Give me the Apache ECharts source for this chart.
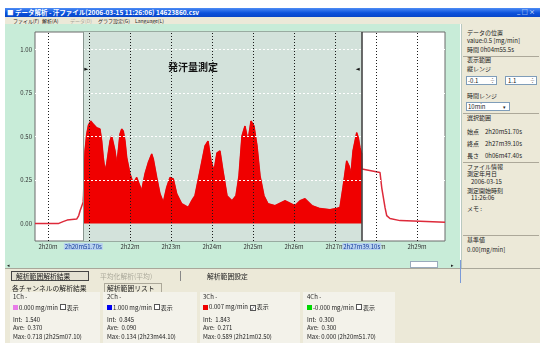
<!DOCTYPE html>
<html><head><meta charset="utf-8">
<script src="https://cdn.jsdelivr.net/npm/echarts@6/dist/echarts.min.js"></script>
<style>
body{margin:0;width:540px;height:343px;background:#fff;overflow:hidden;position:relative;
  font-family:"Noto Sans CJK JP","Noto Sans",sans-serif;font-size:6px;color:#222}
.a{position:absolute;white-space:nowrap;line-height:1}
.box{position:absolute;box-sizing:border-box}
.m{font-size:5px}
.big{font-size:6.8px}
#title{left:5px;top:8px;width:535px;height:9px;background:linear-gradient(#4d8cf5,#0c52dc 55%,#0846c8)}
#menu{left:5px;top:17px;width:535px;height:7px;background:#ece9d8}
#chartWrap{left:5px;top:24px;width:455px;height:244px;background:#c8ecd8}
#chart{position:absolute;left:0;top:0;width:455px;height:244px}
#side{left:461px;top:24px;width:79px;height:244px;background:#ece9d8;border-left:1px solid #b9c8c0}
#bottom{left:5px;top:268px;width:535px;height:75px;background:#ece9d8;border-top:1px solid #a9a79a}
.hr{position:absolute;height:0;border-top:1px solid #aca899}
.grp{position:absolute;top:292px;height:51px;background:#f3f2ea}
.sq{display:inline-block;width:5px;height:5px;margin-right:1px;vertical-align:-0.5px}
.cb{display:inline-block;width:4px;height:4px;border:1px solid #555;background:#fff;margin:0 1px 0 2px;vertical-align:-0.5px;font-size:5px;line-height:4px;text-align:center}
.field{position:absolute;background:#fff;border:1px solid #7f9db9;box-sizing:border-box}
</style></head>
<body>
<div class="box" id="title"></div>
<div class="a" style="left:7px;top:9px;color:#fff;font-size:6.5px;font-weight:bold">■ データ解析 - 汗ファイル(2006-03-15 11:26:06) 14623860.csv</div>
<div class="a" style="left:517px;top:9px;color:#fff;font-size:6px">_ □ ×</div>
<div class="box" id="menu"></div>
<div class="a m" style="left:13px;top:18px">ファイル(F)</div>
<div class="a m" style="left:42px;top:18px">解析(A)</div>
<div class="a m" style="left:70px;top:18px;color:#a8a698">データ(D)</div>
<div class="a m" style="left:98px;top:18px">グラフ設定(G)</div>
<div class="a m" style="left:135px;top:18px">Language(L)</div>

<div class="box" id="chartWrap"><div id="chart"></div></div>
<div class="a" style="left:7px;top:262px;font-size:5px">◂</div>
<div class="box" style="left:410px;top:261px;width:28px;height:7px;background:#fff;border:1px solid #9ab"></div>
<div class="a" style="left:451px;top:262px;font-size:5px">▸</div>

<div class="box" id="side"></div>
<div class="a" style="left:467px;top:30px">データの位置</div>
<div class="a" style="left:467px;top:38px">value:0.5 [mg/min]</div>
<div class="a" style="left:467px;top:47px">時間 0h04m55.5s</div>
<div class="hr" style="left:463px;top:56px;width:76px"></div>
<div class="a" style="left:467px;top:57px">表示範囲</div>
<div class="a" style="left:467px;top:66px">縦レンジ</div>
<div class="field" style="left:466px;top:76px;width:31px;height:9px"></div>
<div class="a" style="left:468px;top:78px">-0.1</div><div class="a" style="left:490px;top:77px;font-size:5px">÷</div>
<div class="field" style="left:505px;top:76px;width:32px;height:9px"></div>
<div class="a" style="left:508px;top:78px">1.1</div><div class="a" style="left:530px;top:77px;font-size:5px">÷</div>
<div class="a" style="left:467px;top:93px">時間レンジ</div>
<div class="field" style="left:466px;top:102px;width:44px;height:9px"></div>
<div class="a" style="left:468px;top:104px">10min</div><div class="a" style="left:503px;top:104px;font-size:5px">▾</div>
<div class="hr" style="left:463px;top:113px;width:76px"></div>
<div class="a" style="left:467px;top:115px">選択範囲</div>
<div class="a" id="selStart" style="left:467px;top:129px"></div>
<div class="a" id="selEnd" style="left:467px;top:141px"></div>
<div class="a" id="selLen" style="left:467px;top:153px"></div>
<div class="hr" style="left:463px;top:162px;width:76px"></div>
<div class="a" style="left:467px;top:164px">ファイル情報</div>
<div class="a" style="left:467px;top:171px">測定年月日</div>
<div class="a" style="left:471px;top:179px">2006-03-15</div>
<div class="a" style="left:467px;top:188px">測定開始時刻</div>
<div class="a" style="left:471px;top:195px">11:26:06</div>
<div class="a" style="left:467px;top:206px">メモ :</div>
<div class="hr" style="left:463px;top:235px;width:76px"></div>
<div class="a" style="left:467px;top:237px">基準値</div>
<div class="a" style="left:467px;top:247px">0.00[mg/min]</div>

<div class="box" id="bottom"></div>
<div class="box" style="left:460px;top:260px;width:1px;height:23px;background:#7a9ad8"></div>
<div class="box" style="left:11px;top:271px;width:78px;height:10px;border:1px solid #444;background:#e4e1d2"></div>
<div class="a big" style="left:16px;top:272.5px">解析範囲解析結果</div>
<div class="a big" style="left:100px;top:272.5px;color:#aaa89a">平均化解析(平均)</div>
<div class="box" style="left:180px;top:271px;width:1px;height:10px;background:#888"></div>
<div class="a big" style="left:207px;top:272.5px">解析範囲設定</div>
<div class="a big" style="left:12px;top:284.5px">各チャンネルの解析結果</div>
<div class="box" style="left:104px;top:283px;width:58px;height:9px;border:1px solid #aca899;border-bottom:none"></div>
<div class="a big" style="left:107px;top:284.5px">解析範囲リスト</div>

<div class="grp" style="left:10px;width:90px"></div>
<div class="a" style="left:13px;top:294px">1Ch -</div>
<div class="a" style="left:13px;top:304px"><span class="sq" style="background:#e87ce8"></span>0.000 mg/min<span class="cb"></span>表示</div>
<div class="a" style="left:13px;top:317px">Int:&nbsp; 1.540</div>
<div class="a" style="left:13px;top:325px">Ave:&nbsp; 0.370</div>
<div class="a" style="left:13px;top:334px">Max: 0.718 (2h25m07.10)</div>

<div class="grp" style="left:103px;width:94px"></div>
<div class="a" style="left:107px;top:294px">2Ch -</div>
<div class="a" style="left:107px;top:304px"><span class="sq" style="background:#0000f0"></span>1.000 mg/min<span class="cb"></span>表示</div>
<div class="a" style="left:107px;top:317px">Int:&nbsp; 0.845</div>
<div class="a" style="left:107px;top:325px">Ave:&nbsp; 0.090</div>
<div class="a" style="left:107px;top:334px">Max: 0.134 (2h23m44.10)</div>

<div class="grp" style="left:200px;width:100px"></div>
<div class="a" style="left:203px;top:294px">3Ch -</div>
<div class="a" style="left:203px;top:304px"><span class="sq" style="background:#f00000"></span><span id="ch3now"></span> mg/min<span class="cb">✓</span>表示</div>
<div class="a" id="ch3int" style="left:203px;top:317px"></div>
<div class="a" id="ch3ave" style="left:203px;top:325px"></div>
<div class="a" id="ch3max" style="left:203px;top:334px"></div>

<div class="grp" style="left:303px;width:92px"></div>
<div class="a" style="left:307px;top:294px">4Ch -</div>
<div class="a" style="left:307px;top:304px"><span class="sq" style="background:#00d800"></span>-0.000 mg/min<span class="cb"></span>表示</div>
<div class="a" style="left:307px;top:317px">Int:&nbsp; 0.300</div>
<div class="a" style="left:307px;top:325px">Ave:&nbsp; 0.300</div>
<div class="a" style="left:307px;top:334px">Max: 0.000 (2h20m51.70)</div>

<script>
// Sweat rate of channel 3, seconds since file start vs mg/min
const sampleSec = [
  8381, 8415, 8422, 8428, 8442, 8445, 8447, 8451.7,
  8454.2, 8456.7, 8459.3, 8462.5, 8464.0, 8466.3, 8471.3, 8476.1, 8478.6, 8480.9,
  8483.4, 8485.9, 8488.3, 8490.8, 8493.2, 8495.6, 8498.1, 8500.6, 8502.9, 8505.4,
  8507.9, 8510.2, 8512.7, 8515.2, 8520.0, 8524.9, 8529.8, 8532.2, 8537.1, 8542.0,
  8546.8, 8551.8, 8554.1, 8559.1, 8563.9, 8568.8, 8573.7, 8578.6, 8583.4, 8588.4,
  8595.7, 8605.3, 8610.3, 8615.1, 8622.5, 8629.8, 8634.2, 8638.6, 8643.0, 8647.3,
  8651.7, 8656.1, 8662.0, 8669.3, 8675.1, 8679.5, 8683.9, 8688.3, 8692.7, 8697.1,
  8701.5, 8705.9, 8710.3, 8716.1, 8722.0, 8732.2, 8746.9, 8761.5, 8768.8, 8776.1,
  8786.4, 8798.1, 8812.7, 8821.5, 8827.3, 8831.7, 8837.1, 8840.5, 8843.4, 8846.4,
  8851.8, 8854.1, 8856.6, 8859.1,
  8859.5, 8885.9, 8888.4, 8893.2, 8895.7, 8900.5, 8915.2, 8944.4, 8981
];
const sweatRate = [
  0.000, 0.000, 0.011, 0.020, 0.026, 0.046, 0.074, 0.126,
  0.417, 0.514, 0.566, 0.589, 0.586, 0.571, 0.550, 0.543, 0.474, 0.379,
  0.303, 0.343, 0.407, 0.474, 0.503, 0.493, 0.417, 0.343, 0.417, 0.514,
  0.543, 0.531, 0.474, 0.379, 0.286, 0.229, 0.265, 0.257, 0.189, 0.286,
  0.350, 0.400, 0.371, 0.265, 0.171, 0.122, 0.207, 0.265, 0.257, 0.171,
  0.114, 0.093, 0.131, 0.160, 0.303, 0.446, 0.474, 0.360, 0.303, 0.406,
  0.417, 0.303, 0.160, 0.131, 0.160, 0.274, 0.503, 0.560, 0.474, 0.589,
  0.560, 0.446, 0.274, 0.160, 0.114, 0.103, 0.131, 0.103, 0.131, 0.143,
  0.103, 0.086, 0.080, 0.086, 0.093, 0.207, 0.360, 0.331, 0.286, 0.417,
  0.522, 0.493, 0.436, 0.400,
  0.314, 0.293, 0.207, 0.093, 0.046, 0.029, 0.017, 0.013, 0.007
];
// Selected measurement range (発汗量測定)
const rangeStart = 8451.7;
const rangeEnd = 8859.1;
// Display window and tick labels
const viewMin = 8381, viewMax = 8981;
const tickSec = [8400, 8460, 8520, 8580, 8640, 8700, 8760, 8820, 8880, 8940];
const tickLabels = ['2h20m', '2h21m', '2h22m', '2h23m', '2h24m', '2h25m', '2h26m', '2h27m', '2h28m', '2h29m'];
const yTicks = [0, 0.25, 0.5, 0.75, 1.0];

function fmtHMS(s) {
  const h = Math.floor(s / 3600), m = Math.floor((s % 3600) / 60), sec = s - h * 3600 - m * 60;
  return h + 'h' + String(m).padStart(2, '0') + 'm' + sec.toFixed(2).padStart(5, '0') + 's';
}

const allPts = sampleSec.map((t, i) => [t, sweatRate[i]]);
const rangePts = allPts.filter(p => p[0] >= rangeStart && p[0] <= rangeEnd);

// statistics for the selected range
let integ = 0, maxV = -1, maxT = 0;
for (let i = 0; i < rangePts.length; i++) {
  if (rangePts[i][1] > maxV) { maxV = rangePts[i][1]; maxT = rangePts[i][0]; }
  if (i > 0) integ += (rangePts[i][0] - rangePts[i - 1][0]) * (rangePts[i][1] + rangePts[i - 1][1]) / 2;
}
const dur = rangeEnd - rangeStart;
document.getElementById('selStart').textContent = '始点　' + fmtHMS(rangeStart);
document.getElementById('selEnd').textContent = '終点　' + fmtHMS(rangeEnd);
document.getElementById('selLen').textContent = '長さ　' + fmtHMS(dur);
document.getElementById('ch3now').textContent = sweatRate[sweatRate.length - 1].toFixed(3);
document.getElementById('ch3int').textContent = 'Int:\u00a0 ' + (integ / 60).toFixed(3);
document.getElementById('ch3ave').textContent = 'Ave:\u00a0 ' + (integ / dur).toFixed(3);
document.getElementById('ch3max').textContent = 'Max: ' + maxV.toFixed(3) + ' (' + fmtHMS(maxT).slice(0, -1) + ')';

const chart = echarts.init(document.getElementById('chart'), null, { renderer: 'canvas' });
const tinyFont = { fontSize: 6, fontFamily: 'Noto Sans CJK JP', color: '#333' };
const markerLabel = {
  show: true, position: 'start', distance: 2, fontSize: 6, fontFamily: 'Noto Sans CJK JP',
  color: '#123a9a', backgroundColor: '#b9d3ef', padding: [1, 1, 0, 1],
  formatter: p => fmtHMS(p.value)
};

chart.setOption({
  animation: false,
  grid: { left: 30, right: 15, top: 8, bottom: 27, show: true, backgroundColor: '#ffffff', borderColor: '#6b6b6b', borderWidth: 1 },
  xAxis: {
    type: 'value', min: viewMin, max: viewMax,
    axisLine: { show: false }, axisTick: { show: false }, splitLine: { show: false },
    axisLabel: Object.assign({ customValues: tickSec, margin: 3,
      formatter: v => tickLabels[tickSec.indexOf(v)] || '' }, tinyFont)
  },
  yAxis: {
    type: 'value', min: -0.1, max: 1.1,
    axisLine: { show: false }, axisTick: { show: false }, splitLine: { show: false },
    axisLabel: Object.assign({ customValues: yTicks, margin: 3, formatter: v => v.toFixed(2) }, tinyFont)
  },
  series: [
    {
      // shaded measurement range
      type: 'line', data: [], z: 1, silent: true,
      markArea: { silent: true, itemStyle: { color: '#d3e2db' }, data: [[{ xAxis: rangeStart }, { xAxis: rangeEnd }]] }
    },
    {
      // horizontal guide lines, white so they only show on the shaded band
      type: 'line', data: [], z: 2, silent: true,
      markLine: {
        silent: true, symbol: 'none', label: { show: false },
        lineStyle: { color: '#ffffff', type: [2, 2], width: 1 },
        data: yTicks.slice(1).map(v => ({ yAxis: v }))
      }
    },
    {
      name: '3Ch', type: 'line', data: allPts, z: 3, showSymbol: false, silent: true,
      lineStyle: { color: '#dd2a3a', width: 1.5 }
    },
    {
      name: '3Ch range', type: 'line', data: rangePts, z: 4, showSymbol: false, silent: true,
      lineStyle: { color: '#f00000', width: 1 }, areaStyle: { color: '#f00000', opacity: 1 }
    },
    {
      // minute guides and range markers
      type: 'line', data: [], z: 6, silent: true,
      markLine: {
        silent: true, symbol: 'none', animation: false,
        data: tickSec.map(t => ({ xAxis: t, label: { show: false }, lineStyle: { color: '#1a1a1a', type: [1, 2], width: 1 } }))
          .concat([
            { xAxis: rangeStart, label: markerLabel, lineStyle: { color: '#8a9690', type: 'solid', width: 1 } },
            { xAxis: rangeEnd, label: markerLabel, lineStyle: { color: '#3a3a3a', type: 'solid', width: 1.5 } }
          ])
      },
      markPoint: {
        silent: true, symbolSize: [3, 4], label: { show: false },
        data: [
          { coord: [rangeStart, 0.886], symbol: 'triangle', symbolRotate: -90, symbolOffset: [3, 0], itemStyle: { color: '#111' } },
          { coord: [rangeEnd, 0.886], symbol: 'triangle', symbolRotate: 90, symbolOffset: [-4, 0], itemStyle: { color: '#111' } }
        ]
      }
    }
  ],
  graphic: [
    { type: 'text', left: 163, top: 38, z: 10, style: { text: '発汗量測定', fontSize: 10, fontWeight: 'bold', fontFamily: 'Noto Sans CJK JP', fill: '#111' } }
  ]
});
</script>
</body></html>
